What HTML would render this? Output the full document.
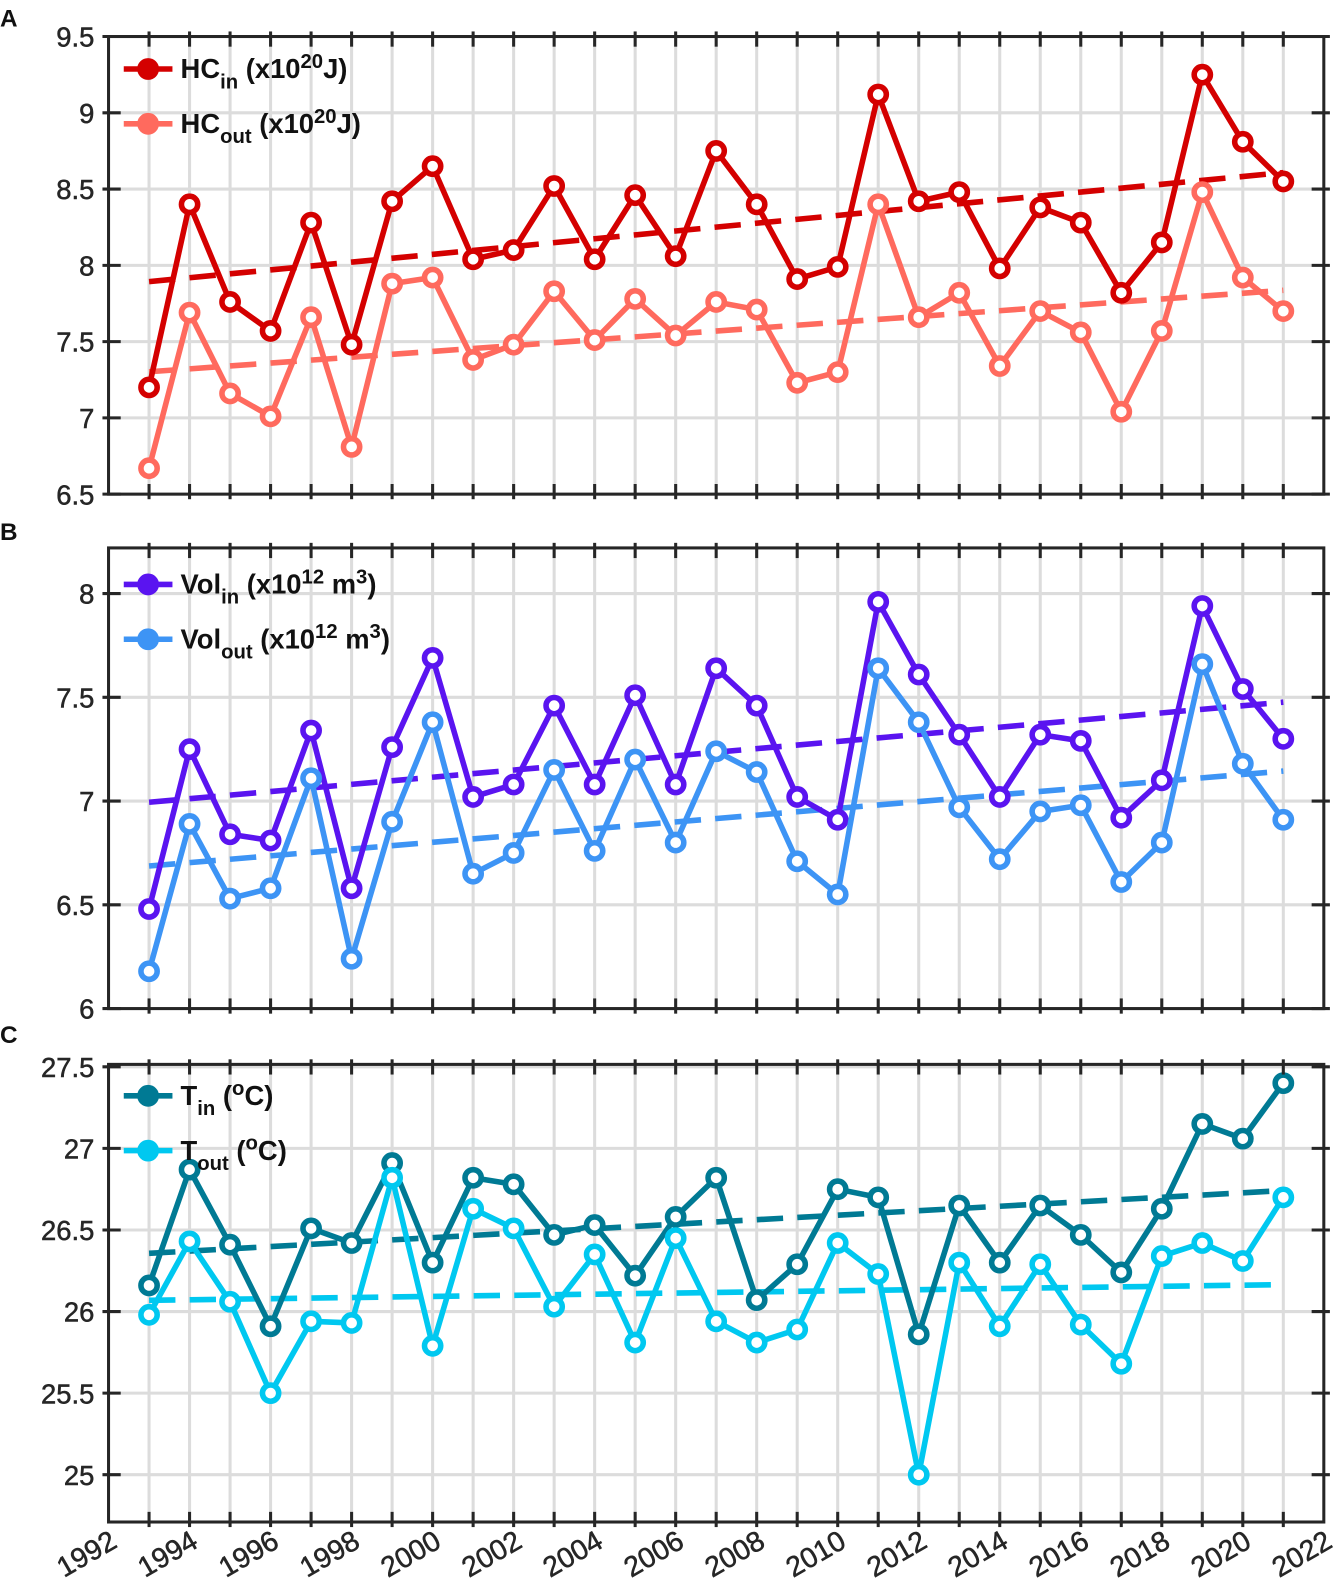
<!DOCTYPE html>
<html><head><meta charset="utf-8"><style>
html,body{margin:0;padding:0;background:#fff;}
svg{display:block;font-family:"Liberation Sans",sans-serif;}
</style></head><body>
<svg id="fig" width="1337" height="1591" viewBox="0 0 1318 1568" preserveAspectRatio="none" xmlns="http://www.w3.org/2000/svg">
<text x="0" y="26" font-size="24" font-weight="bold" fill="#111">A</text>
<text x="0" y="532" font-size="24" font-weight="bold" fill="#111">B</text>
<text x="0" y="1028" font-size="24" font-weight="bold" fill="#111">C</text>
</svg>
<script>
const years = [1993,1994,1995,1996,1997,1998,1999,2000,2001,2002,2003,2004,2005,2006,2007,2008,2009,2010,2011,2012,2013,2014,2015,2016,2017,2018,2019,2020,2021];
const xTickLabels = [1992,1994,1996,1998,2000,2002,2004,2006,2008,2010,2012,2014,2016,2018,2020,2022];
const hcIn = [7.20,8.40,7.76,7.57,8.28,7.48,8.42,8.65,8.04,8.10,8.52,8.04,8.46,8.06,8.75,8.40,7.91,7.99,9.12,8.42,8.48,7.98,8.38,8.28,7.82,8.15,9.25,8.81,8.55];
const hcOut = [6.67,7.69,7.16,7.01,7.66,6.81,7.88,7.92,7.38,7.48,7.83,7.51,7.78,7.54,7.76,7.71,7.23,7.30,8.40,7.66,7.82,7.34,7.70,7.56,7.04,7.57,8.48,7.92,7.70];
const volIn = [6.48,7.25,6.84,6.81,7.34,6.58,7.26,7.69,7.02,7.08,7.46,7.08,7.51,7.08,7.64,7.46,7.02,6.91,7.96,7.61,7.32,7.02,7.32,7.29,6.92,7.10,7.94,7.54,7.30];
const volOut = [6.18,6.89,6.53,6.58,7.11,6.24,6.90,7.38,6.65,6.75,7.15,6.76,7.20,6.80,7.24,7.14,6.71,6.55,7.64,7.38,6.97,6.72,6.95,6.98,6.61,6.80,7.66,7.18,6.91];
const tIn = [26.16,26.87,26.41,25.91,26.51,26.42,26.91,26.30,26.82,26.78,26.47,26.53,26.22,26.58,26.82,26.07,26.29,26.75,26.70,25.86,26.65,26.30,26.65,26.47,26.24,26.63,27.15,27.06,27.40];
const tOut = [25.98,26.43,26.06,25.50,25.94,25.93,26.82,25.79,26.63,26.51,26.03,26.35,25.81,26.45,25.94,25.81,25.89,26.42,26.23,25.00,26.30,25.91,26.29,25.92,25.68,26.34,26.42,26.31,26.70];
const yTicksA = [6.5,7,7.5,8,8.5,9,9.5];
const yTicksB = [6,6.5,7,7.5,8];
const yTicksC = [25,25.5,26,26.5,27,27.5];

const NS="http://www.w3.org/2000/svg";
const svg=document.getElementById('fig');
function mk(tag,attrs,parent){const e=document.createElementNS(NS,tag);for(const k in attrs)e.setAttribute(k,attrs[k]);(parent||svg).appendChild(e);return e;}
const X0=107,X1=1305;
function xs(yr){return X0+(yr-1992)/(2022-1992)*(X1-X0);}
function fit(v){const n=years.length;let sx=0,sy=0,sxx=0,sxy=0;for(let i=0;i<n;i++){sx+=years[i];sy+=v[i];sxx+=years[i]*years[i];sxy+=years[i]*v[i];}const b=(n*sxy-sx*sy)/(n*sxx-sx*sx);return [b,(sy-b*sx)/n];}

function panel(id,top,bot,ymin,ymax,yt,series,legY,showX){
  const g=mk('g',{});
  
  
  const ys=v=>bot-(v-ymin)/(ymax-ymin)*(bot-top);
  years.forEach(yr=>{const l=mk('line',{x1:xs(yr),x2:xs(yr),y1:top,y2:bot,stroke:'#dcdcdc','stroke-width':3},g);
    });
  yt.forEach(v=>{const l=mk('line',{x1:X0,x2:X1,y1:ys(v),y2:ys(v),stroke:'#dcdcdc','stroke-width':3},g);
    });
  series.forEach(s=>{
    const [b,a]=fit(s.v);
    const tr=mk('line',{x1:xs(1993),y1:ys(a+b*1993),x2:xs(2021),y2:ys(a+b*2021),stroke:s.c,'stroke-width':5.5,'stroke-dasharray':'26 14'},g);
    
  });
  series.forEach(s=>{
    const pts=s.v.map((v,i)=>xs(years[i])+','+ys(v)).join(' ');
    const pl=mk('polyline',{points:pts,fill:'none',stroke:s.c,'stroke-width':5.5,'stroke-linejoin':'round'},g);
    
    s.v.forEach((v,i)=>{const c=mk('circle',{cx:xs(years[i]),cy:ys(v),r:8,fill:'#fff',stroke:s.c,'stroke-width':5.5},g);
      });
  });
  const fr=mk('rect',{x:X0,y:top,width:X1-X0,height:bot-top,fill:'none',stroke:'#262626','stroke-width':3},g);
  
  years.forEach(yr=>{
    mk('line',{x1:xs(yr),x2:xs(yr),y1:top-5,y2:top+10,stroke:'#262626','stroke-width':3},g);
    mk('line',{x1:xs(yr),x2:xs(yr),y1:bot-10,y2:bot+5,stroke:'#262626','stroke-width':3},g);
  });
  yt.forEach(v=>{
    mk('line',{x1:X0-6,x2:X0+12,y1:ys(v),y2:ys(v),stroke:'#262626','stroke-width':3},g);
    mk('line',{x1:X1-12,x2:X1+6,y1:ys(v),y2:ys(v),stroke:'#262626','stroke-width':3},g);
    const t=mk('text',{x:X0-14,y:ys(v)+10,'text-anchor':'end','font-size':27,fill:'#262626',stroke:'#262626','stroke-width':0.5},g);
    t.textContent=String(v);
    
  });
  series.forEach((s,k)=>{
    const y=legY[k];
    const lg=mk('g',{},g);
    
    mk('line',{x1:122,x2:170,y1:y,y2:y,stroke:s.c,'stroke-width':5.5},lg);
    mk('circle',{cx:146,cy:y,r:8.5,fill:s.c,stroke:s.c,'stroke-width':4.5},lg);
    const t=mk('text',{x:178,y:y+9,'font-size':27,'font-weight':'bold',fill:'#111'},lg);
    t.innerHTML=s.label;
  });
  if(showX){
    xTickLabels.forEach(yr=>{const px=xs(yr)+10,py=bot+24;const t=mk('text',{x:px,y:py,'text-anchor':'end','font-size':28,fill:'#262626',stroke:'#262626','stroke-width':0.5,transform:'rotate(-30 '+px+' '+py+')'},g);
      t.textContent=yr;});
  }
}
panel('a',36,487,6.5,9.5,yTicksA,[
 {name:'hc-in',v:hcIn,c:'#d40000',label:'HC<tspan font-size="20" dy="10">in</tspan><tspan dy="-10"> (x10</tspan><tspan font-size="20" dy="-10">20</tspan><tspan dy="10">J)</tspan>'},
 {name:'hc-out',v:hcOut,c:'#ff6a5e',label:'HC<tspan font-size="20" dy="10">out</tspan><tspan dy="-10"> (x10</tspan><tspan font-size="20" dy="-10">20</tspan><tspan dy="10">J)</tspan>'}],[68,122],false);
panel('b',540,994,6,8.22,yTicksB,[
 {name:'vol-in',v:volIn,c:'#5a14f0',label:'Vol<tspan font-size="20" dy="10">in</tspan><tspan dy="-10"> (x10</tspan><tspan font-size="20" dy="-10">12</tspan><tspan dy="10"> m</tspan><tspan font-size="20" dy="-10">3</tspan><tspan dy="10">)</tspan>'},
 {name:'vol-out',v:volOut,c:'#3d94f5',label:'Vol<tspan font-size="20" dy="10">out</tspan><tspan dy="-10"> (x10</tspan><tspan font-size="20" dy="-10">12</tspan><tspan dy="10"> m</tspan><tspan font-size="20" dy="-10">3</tspan><tspan dy="10">)</tspan>'}],[576,630],false);
panel('c',1049,1500,24.71,27.515,yTicksC,[
 {name:'t-in',v:tIn,c:'#007a94',label:'T<tspan font-size="20" dy="10">in</tspan><tspan dy="-10"> (</tspan><tspan font-size="20" dy="-10">o</tspan><tspan dy="10">C)</tspan>'},
 {name:'t-out',v:tOut,c:'#00c8f0',label:'T<tspan font-size="20" dy="10">out</tspan><tspan dy="-10"> (</tspan><tspan font-size="20" dy="-10">o</tspan><tspan dy="10">C)</tspan>'}],[1080,1134],true);
</script>
</body></html>
